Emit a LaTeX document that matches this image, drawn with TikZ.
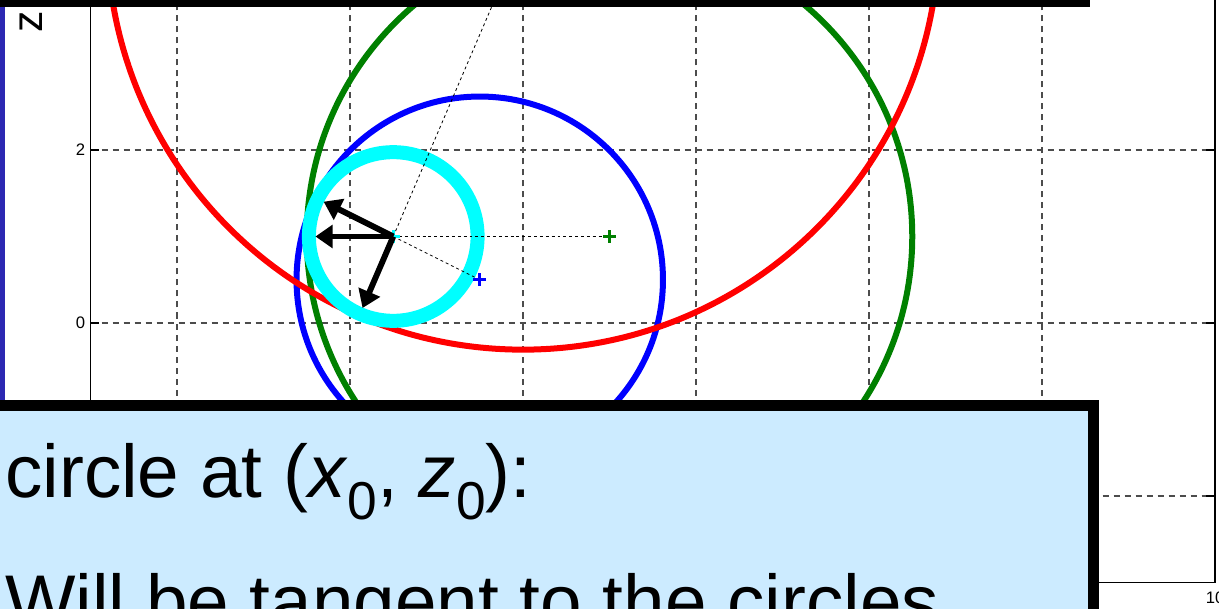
\documentclass[tikz,border=0pt]{standalone}
\usepackage{fontspec}
\setmainfont{Liberation Sans}
\usetikzlibrary{arrows.meta,calc}
\definecolor{gridgray}{gray}{0.3}
\definecolor{barblue}{RGB}{44,40,178}
\definecolor{boxblue}{RGB}{204,235,255}
\definecolor{mgreen}{RGB}{0,128,0}
\definecolor{mblue}{RGB}{0,0,255}
\definecolor{mred}{RGB}{255,0,0}
\definecolor{mcyan}{RGB}{0,255,255}
\tikzset{
  gridline/.style={draw=gridgray, line width=0.8pt, dash pattern=on 4.5pt off 3.75pt},
  axisline/.style={draw=black, line width=1.1pt},
  circleline/.style={line width=4.5pt},
  centerline/.style={draw=black, line width=0.6pt, dash pattern=on 2.2pt off 2.2pt},
  forcearrow/.style={draw=black, line width=4.4pt, -{Triangle[length=13pt,width=17pt]}},
  ticklabel/.style={font=\fontsize{12.5}{14}\selectfont, inner sep=0pt},
  plusmk/.pic={\draw[line width=1.9pt] (-4.8pt,0) -- (4.8pt,0) (0,-4.8pt) -- (0,4.8pt);},
  bigtext/.style={font=\fontsize{56}{67}\selectfont, inner sep=0pt, anchor=base west}
}
\newcommand{\subz}{\raisebox{-0.3em}{\fontsize{40}{42}\selectfont 0}}
\begin{document}
\begin{tikzpicture}[x=0.75pt,y=-0.75pt]
\useasboundingbox (0,0) rectangle (1219,609);
\begin{scope}
\clip (0,0) rectangle (1219,609);
\begin{scope}[shift={(350,323)}, x=64.875pt, y=64.875pt]
  % grid
  \foreach \gx in {-2,0,...,8} \draw[gridline] (\gx,-3) -- (\gx,4);
  \foreach \gz in {-2,0,2} \draw[gridline] (-3,\gz) -- (10,\gz);
  % axes
  \draw[axisline] (-3,4) -- (-3,-3) -- (10,-3) -- (10,4);
  \foreach \gz in {-2,0,2} {
    \draw[axisline, line width=0.8pt] (-3,\gz) -- (-2.9,\gz);
    \draw[axisline, line width=0.8pt] (10,\gz) -- (9.9,\gz);
  }
  % centres
  \coordinate (cc) at (0.5,1);
  \coordinate (gc) at (3,1);
  \coordinate (bc) at (1.5,0.5);
  \coordinate (rc) at (2,4.5);
  \begin{scope}
    \clip (-3,-3) rectangle (10,4);
    \draw[circleline, draw=mgreen] (gc) circle (3.5);
    \draw[circleline, draw=mblue] (bc) circle (2.118);
    \draw[circleline, draw=mred] (rc) circle (4.808);
  \end{scope}
  \draw[draw=mcyan, line width=10.5pt] (cc) circle (0.975);
  % lines between centres
  \draw[centerline] (cc) -- (rc);
  \draw[centerline] (cc) -- (gc);
  \draw[centerline] (cc) -- (bc);
  \pic[draw=mgreen] at (gc) {plusmk};
  \pic[draw=mblue] at (bc) {plusmk};
  \pic[draw=mcyan] at (cc) {plusmk};
  % arrows
  \coordinate (t1) at ($(cc)+(-0.9,0)$);
  \coordinate (t2) at ($(cc)+(-0.805,0.4025)$);
  \coordinate (t3) at ($(cc)+(-0.355,-0.827)$);
  \draw[forcearrow] (cc) -- (t1);
  \draw[forcearrow] (cc) -- (t2);
  \draw[forcearrow] (cc) -- (t3);
  % tick labels
  \node[ticklabel, anchor=east] (lab2) at (-3.06,2) {2};
  \node[ticklabel, anchor=east] (lab0) at (-3.06,0) {0};
  \node[ticklabel, anchor=north] (lab10) at (10,-3.1) {10};
\end{scope}
% axis label
\node[font=\fontsize{32}{34}\selectfont, rotate=90, inner sep=0pt] (zlab) at (31.5,22) {z};
% left blue bar and top black bar
\fill[barblue] (0,0) rectangle (5,400);
\fill[black] (0,0) rectangle (1090,7);
% text box
\draw[line width=8.25pt, fill=boxblue] (-30,405.5) rectangle (1093.5,720);
\node[bigtext] (line1) at (5,497) {circle at (\textit{x}\subz, \textit{z}\subz):};
\node[bigtext] (line2) at (5,627) {Will be tangent to the circles};
\end{scope}
\end{tikzpicture}
\end{document}
